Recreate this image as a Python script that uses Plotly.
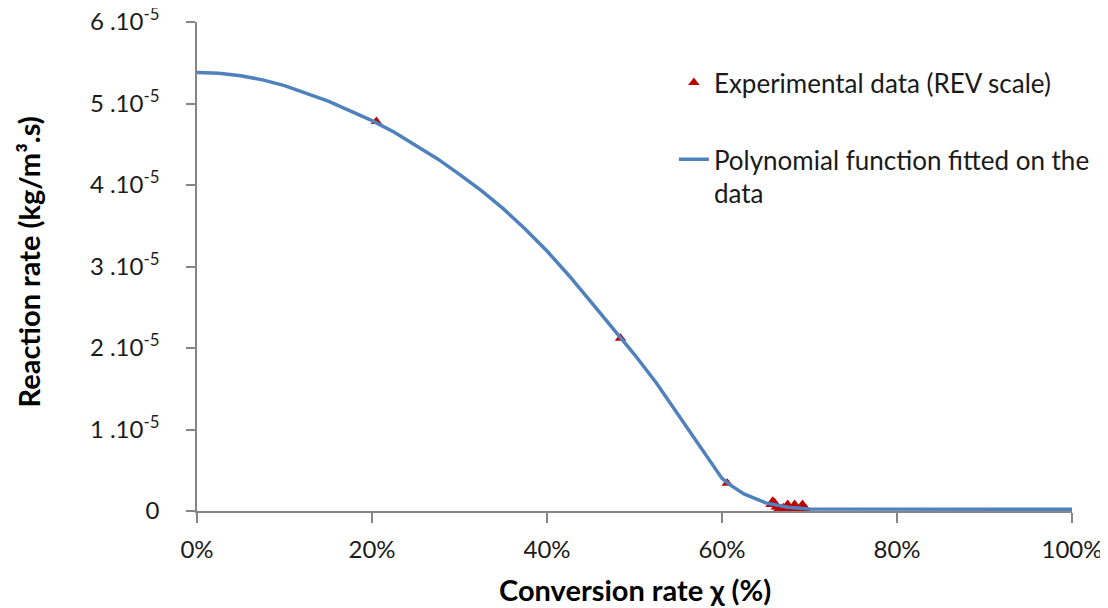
import plotly.graph_objects as go

# Fitted polynomial curve: conversion rate (fraction), reaction rate (kg/m3.s)
fit_x = [0.000, 0.025, 0.050, 0.075, 0.100, 0.125, 0.150, 0.175, 0.200, 0.225,
         0.250, 0.275, 0.300, 0.325, 0.350, 0.375, 0.400, 0.425, 0.450, 0.475,
         0.500, 0.525, 0.550, 0.575, 0.600, 0.608, 0.625, 0.650, 0.675, 0.700,
         0.800, 0.900, 1.000]
fit_y = [5.38e-5, 5.37e-5, 5.34e-5, 5.29e-5, 5.22e-5, 5.13e-5, 5.03e-5, 4.91e-5,
         4.79e-5, 4.65e-5, 4.49e-5, 4.32e-5, 4.13e-5, 3.93e-5, 3.71e-5, 3.46e-5,
         3.19e-5, 2.89e-5, 2.57e-5, 2.24e-5, 1.92e-5, 1.57e-5, 1.18e-5, 0.78e-5,
         0.40e-5, 0.33e-5, 0.21e-5, 0.10e-5, 0.045e-5, 0.025e-5, 0.022e-5,
         0.022e-5, 0.022e-5]

# Experimental data (REV scale)
exp_x = [0.205, 0.484, 0.606, 0.656, 0.658, 0.660, 0.662, 0.665, 0.668, 0.670, 0.673,
         0.675, 0.678, 0.682, 0.683, 0.686, 0.689, 0.692, 0.694, 0.696]
exp_y = [4.78e-5, 2.12e-5, 0.34e-5, 0.08e-5, 0.12e-5, 0.10e-5, 0.05e-5, 0.03e-5,
         0.02e-5, 0.04e-5, 0.01e-5, 0.08e-5, 0.02e-5, 0.02e-5, 0.08e-5, 0.01e-5,
         0.03e-5, 0.08e-5, 0.01e-5, 0.02e-5]

x_ticks = [0, 0.2, 0.4, 0.6, 0.8, 1.0]
x_ticktext = ["0%", "20%", "40%", "60%", "80%", "100%"]
y_ticks = [0, 1e-5, 2e-5, 3e-5, 4e-5, 5e-5, 6e-5]
y_ticktext = ["0", "1 .10<sup>-5</sup>", "2 .10<sup>-5</sup>", "3 .10<sup>-5</sup>",
              "4 .10<sup>-5</sup>", "5 .10<sup>-5</sup>", "6 .10<sup>-5</sup>"]

x_title = "<b>Conversion rate χ (%)</b>"
y_title = "<b>Reaction rate (kg/m³.s)</b>"

FONT = "Lato"
TEXT = "#1a1a1a"
AXIS_COLOR = "#868686"

fig = go.Figure()
fig.add_trace(go.Scatter(
    x=exp_x, y=exp_y, mode="markers", name="Experimental data (REV scale)",
    marker=dict(symbol="triangle-up", color="#C00000", size=10),
    legendgroup="a",
))
fig.add_trace(go.Scatter(
    x=fit_x, y=fit_y, mode="lines", name="Polynomial function fitted on the<br>data",
    line=dict(color="#4F81BD", width=3.5),
    legendgroup="b",
))

# page body has an 8px default margin, so the figure is 8px smaller
fig.update_layout(
    width=1100, height=600,
    margin=dict(l=189, r=36, t=14, b=97),
    paper_bgcolor="white", plot_bgcolor="white",
    font=dict(family=FONT, color=TEXT, size=24),
    legend=dict(x=0.545, y=0.924, xanchor="left", yanchor="top", valign="top",
                font=dict(family=FONT, size=26, color=TEXT),
                tracegroupgap=40, bgcolor="rgba(0,0,0,0)"),
    xaxis=dict(
        range=[0, 1], tickvals=x_ticks, ticktext=x_ticktext,
        showline=True, linecolor=AXIS_COLOR, linewidth=1.5,
        ticks="outside", ticklen=10, tickcolor=AXIS_COLOR, tickwidth=1.5,
        showgrid=False, zeroline=False, automargin=False,
        tickfont=dict(family=FONT, size=24, color=TEXT),
        ticklabelstandoff=6, ticklabeloverflow="allow",
    ),
    yaxis=dict(
        range=[0, 6e-5], tickvals=y_ticks, ticktext=y_ticktext,
        showline=True, linecolor=AXIS_COLOR, linewidth=1.5,
        ticks="outside", ticklen=9, tickcolor=AXIS_COLOR, tickwidth=1.5,
        showgrid=False, zeroline=False, automargin=False,
        tickfont=dict(family=FONT, size=24, color=TEXT),
        ticklabelstandoff=22, ticklabeloverflow="allow",
    ),
    annotations=[
        dict(text=x_title, xref="paper", yref="paper", x=0.5, y=-0.16,
             xanchor="center", yanchor="middle", showarrow=False,
             font=dict(family=FONT, size=29, color="#000000")),
        dict(text=y_title, xref="paper", yref="paper", x=0, y=0.5,
             xanchor="center", yanchor="middle", xshift=-169, yshift=4,
             textangle=-90, showarrow=False,
             font=dict(family=FONT, size=29, color="#000000")),
    ],
)

fig.write_html("out.html")
